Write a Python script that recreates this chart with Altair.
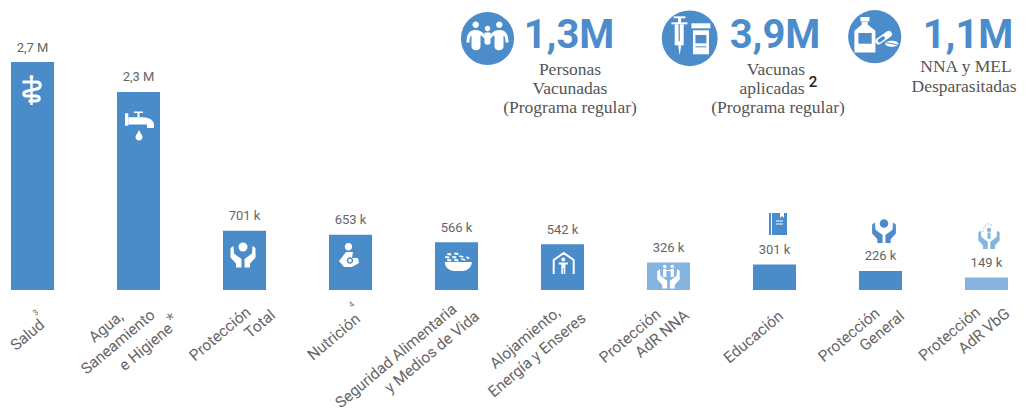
import re
import altair as alt
import pandas as pd

categorias = ["Salud", "Agua", "Proteccion Total", "Nutricion", "Seguridad", "Alojamiento",
              "Proteccion NNA", "Educacion", "Proteccion General", "Proteccion VbG"]
valores = [2700000, 2345000, 701000, 653000, 566000, 542000, 326000, 301000, 226000, 149000]
etiquetas = ["2,7 M", "2,3 M", "701 k", "653 k", "566 k", "542 k", "326 k", "301 k", "226 k", "149 k"]
tonos = ["f", "f", "f", "f", "f", "f", "c", "f", "f", "c"]

AZUL = "#4a8bca"
CLARO = "#85b4e0"
KPI = "#4d8ccb"
GRIS = "#666666"
W = "#ffffff"
OX, OY = 8, 8

df = pd.DataFrame({"cat": categorias, "v": valores, "t": etiquetas, "tono": tonos})
xs = alt.Scale(domain=categorias, range=[3, 1000], paddingInner=0.594, paddingOuter=0, round=False)
ys = alt.Scale(domain=[0, 2700000], range=[282, 54])
col = alt.Color("tono:N", scale=alt.Scale(domain=["f", "c"], range=[AZUL, CLARO]), legend=None)
X = alt.X("cat:N", scale=xs, axis=None, sort=categorias)
Y = alt.Y("v:Q", scale=ys, axis=None)

barras = alt.Chart(df).mark_bar().encode(x=X, y=Y, y2=alt.datum(0), color=col)
valtxt = alt.Chart(df).mark_text(font="Roboto", fontSize=13, color=GRIS, dy=-14.5,
                                 baseline="middle").encode(x=X, y=Y, text="t:N")
layers = [barras, valtxt]
one = alt.Data(values=[{}])


def txt(t, x, y, size, font, color=GRIS, angle=0, weight="normal", align="center"):
    layers.append(alt.Chart(one).mark_text(text=t, fontSize=size, font=font, color=color, angle=angle,
                                           fontWeight=weight, align=align, baseline="middle").encode(
        x=alt.value(x - OX), y=alt.value(y - OY)))


def fill(d, cx, cy, color, s=1.0):
    # custom symbols scale by sqrt(size)/2, so size 4 keeps the path's units as pixels
    layers.append(alt.Chart(one).mark_point(shape=d, size=4 * s * s, filled=True, fill=color, opacity=1,
                                            strokeWidth=0).encode(
        x=alt.value(cx - OX), y=alt.value(cy - OY)))


def line(d, cx, cy, color, w, s=1.0, cap="butt"):
    layers.append(alt.Chart(one).mark_point(shape=d, size=4 * s * s, filled=False, stroke=color, opacity=1,
                                            strokeWidth=w, strokeCap=cap).encode(
        x=alt.value(cx - OX), y=alt.value(cy - OY)))


def circ(x, y, r):
    return f"M{x - r},{y} A{r},{r} 0 1 0 {x + r},{y} A{r},{r} 0 1 0 {x - r},{y} Z"


def mirror(d):
    return re.sub(r"(-?[\d.]+),(-?[\d.]+)", lambda m: f"{-float(m.group(1))},{m.group(2)}", d)


def rect(x0, y0, x1, y1):
    return f"M{x0},{y0} L{x1},{y0} L{x1},{y1} L{x0},{y1} Z"


# rotated category labels
ROT = "Roboto"
for t, x, y in [("Salud", 27.5, 335), ("Agua,", 106, 327), ("Saneamiento", 118, 342), ("e Higiene", 146, 347),
                ("Protección", 220, 334), ("Total", 260, 324), ("Nutrición", 334, 337),
                ("Seguridad Alimentaria", 396, 356), ("y Medios de Vida", 432, 352),
                ("Alojamiento,", 525, 338), ("Energía y Enseres", 537, 355),
                ("Protección", 630, 336), ("AdR NNA", 662, 334), ("Educación", 753.5, 337),
                ("Protección", 849, 335), ("General", 882, 331), ("Protección", 949.5, 334), ("AdR VbG", 984, 331)]:
    txt(t, x, y, 15.5, ROT, angle=320)
txt("3", 36, 313, 8, ROT, angle=320)
txt("*", 172, 319, 17, ROT, color="#888888", angle=320)
txt("4", 352, 305, 8, ROT, angle=320)

# --- bar icons ---
# staff and snake
line("M0,-13 L0,15", 31.5, 90, W, 2.5)
line("M-9,-8 L5,-8 C10,-8 10,-2 5,-1 L-4,1 C-9,2 -9,6 -4,6 L4,6 C9,6 9,11 4,11 L-3,11", 31.5, 90, W, 3)
fill(circ(0, -13, 2), 31.5, 90, W)
# faucet
fill(rect(-14, -12.7, -10.7, -0.3), 139, 126, W)
fill("M-10.7,-8.7 L4,-8.7 C11,-8.7 15,-5 15,-1 L15,2 L8,2 L8,-1 C8,-2 6,-1.5 4,-1.5 L-10.7,-1.5 Z", 139, 126, W)
fill("M-5,-14.5 L4,-14.5 L4,-13 L0.5,-13 L0.5,-8.7 L-1.5,-8.7 L-1.5,-13 L-5,-13 Z", 139, 126, W)
fill("M0,4 C1,7 3.5,9 3.5,11 A3.5,3.5 0 0 1 -3.5,11 C-3.5,9 -1,7 0,4 Z", 139, 126, W)
# protective hands
HAND = "M-12.5,-9 L-9.5,-11 L-9,-3.5 L-1.5,2 L-1.5,10.5 L-7,10.5 L-7,6.5 L-12.5,0.5 Z"


def hands(cx, cy, color, s=1.0):
    fill(HAND, cx, cy, color, s)
    fill(mirror(HAND), cx, cy, color, s)


hands(243, 257, W)
fill(circ(0, -10, 4.5), 243, 257, W)
# mother and baby
fill(circ(0, 0, 3.7), 348.5, 246.7, W)
fill("M-10,1 L-3,-8 L4,-8 L3,-2 L9,-2 L10,3 L3,7 L-5,7 Z", 349, 260, W)
fill(circ(1, 0.5, 3.2), 349, 260, AZUL)
fill(circ(1, 0.5, 1.8), 349, 260, W)
# bowl and grains
fill("M-13.5,0 L13.5,0 C13.5,6 8,9 4,9 L-4,9 C-8,9 -13.5,6 -13.5,0 Z", 458.3, 262, W)
line("M-11,-8 L-7,-7.5 M-4,-8.5 L0,-8 M-13,-5 L-9,-4.5 M-6,-5 L-2,-4.5 M1,-6 L5,-5 M-11,-2 L-7,-1.5 "
     "M-4,-2 L0,-1.5 M3,-3 L7,-2 M8,-5 L11,-3.5", 458.3, 262, W, 1.8)
# shelter
line("M-10,11 L-10,-3 L0,-10 L10,-3 L10,11", 563.7, 263, W, 2)
fill(circ(0, -3.5, 2), 563.3, 263, W)
fill("M-4.5,-0.5 L4.5,-0.5 L4.5,1.5 L2,1.5 L2,11 L0.4,11 L0.4,5 L-0.4,5 L-0.4,11 L-2,11 L-2,1.5 L-4.5,1.5 Z",
     563.3, 263, W)
# hands with two children
hands(668.5, 279, W, 0.9)
for dx in (-3.8, 3.8):
    fill(circ(dx, -12.5, 1.7), 668.5, 279, W)
    fill(rect(dx - 1.6, -10, dx + 1.6, -2), 668.5, 279, W)
fill(rect(-3, -9, 3, -8), 668.5, 279, W)
# book
fill("M-9,-11 L2,-11 L2,-6 L4,-8 L6,-6 L6,-11 L9,-11 L9,11 L-9,11 Z", 778, 224, AZUL)
line("M-6.5,-11 L-6.5,11 M-2,-3 L5,-3 M-2,0 L5,0", 778, 224, W, 1)
# hands with a person
hands(884, 233, AZUL, 0.95)
fill(circ(0, -10, 4.5), 884, 233, AZUL, 0.95)
hands(989, 240, CLARO, 0.85)
fill(circ(0, -10, 2.2), 989, 240, CLARO)
fill(rect(-1.5, -7.5, 1.5, -1), 989, 240, CLARO)
for dx, dy in [(-5, -12), (-3.5, -14.5), (-1, -16), (2, -15), (-6, -9)]:
    fill(circ(dx, dy, 0.7), 989, 240, CLARO)

# --- KPI block ---
CIRC = [(487.5, 38.5, 30), (689.7, 38.3, 31.5), (874.7, 36.7, 30)]
for cx, cy, r in CIRC:
    layers.append(alt.Chart(one).mark_circle(size=3.14159 * r * r, color=KPI, opacity=1).encode(
        x=alt.value(cx - OX), y=alt.value(cy - OY)))
# family
cx, cy, _ = CIRC[0]
for dx in (-11.8, 11.8):
    fill(circ(dx, -13.7, 3.2), cx, cy, W)
fill(circ(0, -10, 2.7), cx, cy, W)
BODY = ("M-21,4 C-21,-7 -16,-8.5 -11.8,-8.5 C-7,-8.5 -3,-5 -1.5,-2 L-3,0 C-5,-2 -6,-3 -7,-3 L-7,8 "
        "C-7,13 -16,13 -16,8 L-16,-3 C-18,-2 -18,2 -18,4 Z")
fill(BODY, cx, cy, W)
fill(mirror(BODY), cx, cy, W)
fill("M-3,-6 L3,-6 L3,4 C3,7 -3,7 -3,4 Z", cx, cy, W)
# syringe and vial
cx, cy, _ = CIRC[1]
fill(rect(-16, -22, -4.3, -20), cx, cy, W)
fill(rect(-11.6, -21, -8.6, -15), cx, cy, W)
fill(rect(-18.3, -16, -2.3, -14), cx, cy, W)
fill(rect(-15, -14, -6, 7), cx, cy, W)
fill("M-11.5,7 L-8.5,7 L-10,17 Z", cx, cy, W)
line("M-10.5,-14 L-10.5,3", cx, cy, KPI, 1.2)
fill(rect(1.7, -15, 20.7, -10), cx, cy, W)
fill(rect(3.3, -8, 19.3, 16), cx, cy, W)
fill(rect(5.7, -3.3, 16.7, 5), cx, cy, KPI)
fill(rect(5.7, 8, 16.7, 9), cx, cy, KPI)
# bottle and pills
cx, cy, _ = CIRC[2]
fill(rect(-14.3, -19.7, -5.3, -15.3), cx, cy, W)
fill("M-13,-15 L-7,-15 L-7,-12 L0.7,-6 L0.7,15.7 L-20.3,15.7 L-20.3,-6 L-13,-12 Z", cx, cy, W)
fill(rect(-16.3, -3.7, -3, 7), cx, cy, KPI)
line("M4,4.5 L14,-2.5", cx, cy, W, 6.5, cap="round")
line("M4.7,4 L8.5,1.3", cx, cy, KPI, 3.5, cap="round")
fill("M10.5,7 C10.5,3 23.5,3 23.5,7 C23.5,11 10.5,11 10.5,7 Z", cx, cy, W)
line("M11.5,6 L22.5,8", cx, cy, KPI, 1)

for t, x in [("1,3M", 569), ("3,9M", 775), ("1,1M", 968)]:
    txt(t, x, 36, 40, "Roboto", color=KPI, weight="bold")
SERIF = "Liberation Serif"
for t, x, y in [("Personas", 570, 70), ("Vacunadas", 570, 89), ("(Programa regular)", 570, 108),
                ("Vacunas", 776, 70), ("aplicadas", 772, 89), ("(Programa regular)", 778, 108),
                ("NNA y MEL", 966, 67), ("Desparasitadas", 964, 87)]:
    txt(t, x, y, 17.5, SERIF, color="#555555")
txt("2", 813, 82, 15, "Roboto", color="#222222", weight=500)

chart = alt.layer(*layers).properties(
    width=1011, height=404, padding=0, autosize=alt.AutoSizeParams(type="none"),
).configure_view(stroke=None)
chart.save("out.html", embed_options={"renderer": "svg", "actions": False})
